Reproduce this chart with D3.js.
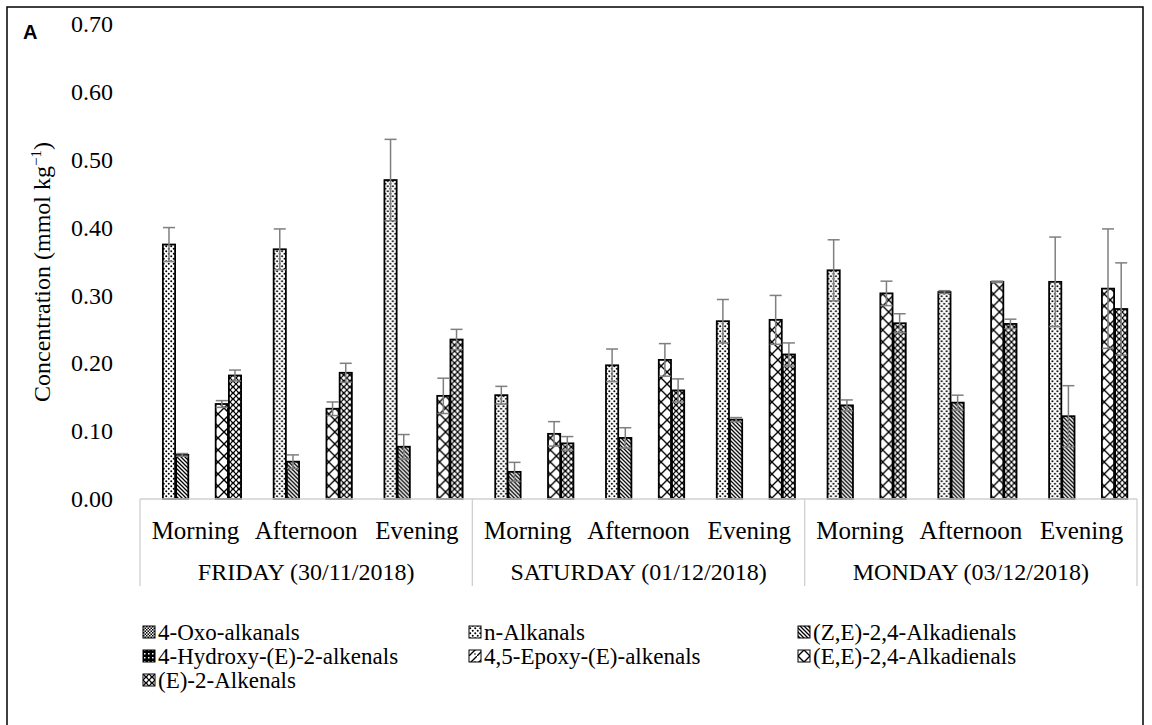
<!DOCTYPE html>
<html>
<head>
<meta charset="utf-8">
<script src="https://cdn.jsdelivr.net/npm/d3@7"></script>
<style>
  html, body { margin: 0; padding: 0; background: #fff; }
  svg { display: block; }
</style>
</head>
<body>
<svg id="chart" width="1152" height="725"></svg>
<script>
// Sampling periods and days
const days = ["FRIDAY (30/11/2018)", "SATURDAY (01/12/2018)", "MONDAY (03/12/2018)"];
const times = ["Morning", "Afternoon", "Evening"];

// Aldehyde families, in plotting order
const seriesNames = [
  "4-Oxo-alkanals",
  "n-Alkanals",
  "(Z,E)-2,4-Alkadienals",
  "4-Hydroxy-(E)-2-alkenals",
  "4,5-Epoxy-(E)-alkenals",
  "(E,E)-2,4-Alkadienals",
  "(E)-2-Alkenals"
];

// Mean concentrations (mmol kg-1), 9 samples: Fri M/A/E, Sat M/A/E, Mon M/A/E
const oxoAlkanals      = [0, 0, 0, 0, 0, 0, 0, 0, 0];
const nAlkanals        = [0.375, 0.368, 0.470, 0.153, 0.197, 0.262, 0.337, 0.305, 0.320];
const zeAlkadienals    = [0.065, 0.055, 0.077, 0.040, 0.090, 0.117, 0.138, 0.142, 0.122];
const hydroxyAlkenals  = [0, 0, 0, 0, 0, 0, 0, 0, 0];
const epoxyAlkenals    = [0, 0, 0, 0, 0, 0, 0, 0, 0];
const eeAlkadienals    = [0.140, 0.133, 0.152, 0.096, 0.205, 0.264, 0.303, 0.320, 0.310];
const e2Alkenals       = [0.182, 0.186, 0.235, 0.082, 0.160, 0.213, 0.259, 0.258, 0.280];

// Standard deviations
const oxoAlkanalsSd     = [0, 0, 0, 0, 0, 0, 0, 0, 0];
const nAlkanalsSd       = [0.025, 0.030, 0.060, 0.013, 0.024, 0.032, 0.045, 0.002, 0.066];
const zeAlkadienalsSd   = [0.002, 0.010, 0.018, 0.014, 0.015, 0.003, 0.008, 0.011, 0.045];
const hydroxyAlkenalsSd = [0, 0, 0, 0, 0, 0, 0, 0, 0];
const epoxyAlkenalsSd   = [0, 0, 0, 0, 0, 0, 0, 0, 0];
const eeAlkadienalsSd   = [0.005, 0.010, 0.026, 0.018, 0.024, 0.036, 0.018, 0.001, 0.088];
const e2AlkenalsSd      = [0.008, 0.014, 0.015, 0.010, 0.017, 0.017, 0.014, 0.007, 0.068];

const yTicks = [0, 0.1, 0.2, 0.3, 0.4, 0.5, 0.6, 0.7];

const values = [oxoAlkanals, nAlkanals, zeAlkadienals, hydroxyAlkenals, epoxyAlkenals, eeAlkadienals, e2Alkenals];
const errors = [oxoAlkanalsSd, nAlkanalsSd, zeAlkadienalsSd, hydroxyAlkenalsSd, epoxyAlkenalsSd, eeAlkadienalsSd, e2AlkenalsSd];

const samples = [];
days.forEach((d, di) => times.forEach((t, ti) => samples.push({ key: di * 3 + ti, day: d, time: t, di })));

const svg = d3.select("#chart");
const serif = "'Liberation Serif', 'Times New Roman', serif";

// ---- fill patterns ----
const defs = svg.append("defs");
function pattern(id, size, draw) {
  const p = defs.append("pattern").attr("id", id)
    .attr("patternUnits", "userSpaceOnUse").attr("width", size).attr("height", size);
  p.append("rect").attr("width", size).attr("height", size).attr("fill", "#fff");
  draw(p, size);
}
pattern("pOxo", 3, (p) => {
  p.append("rect").attr("width", 1.5).attr("height", 1.5).attr("fill", "#000");
  p.append("rect").attr("x", 1.5).attr("y", 1.5).attr("width", 1.5).attr("height", 1.5).attr("fill", "#000");
});
pattern("pDots", 5, (p) => {
  p.append("circle").attr("cx", 1.25).attr("cy", 1.25).attr("r", 1).attr("fill", "#000");
  p.append("circle").attr("cx", 3.75).attr("cy", 3.75).attr("r", 1).attr("fill", "#000");
});
pattern("pBack", 4, (p, s) => {
  p.append("path").attr("d", `M-1,-1L${s + 1},${s + 1}M-1,${s - 1}L1,${s + 1}M${s - 1},-1L${s + 1},1`)
    .attr("stroke", "#000").attr("stroke-width", 1.3);
});
pattern("pHydroxy", 4, (p) => {
  p.select("rect").attr("fill", "#000");
  p.append("rect").attr("x", 1).attr("y", 1).attr("width", 1.5).attr("height", 1.5).attr("fill", "#fff");
});
pattern("pEpoxy", 8, (p, s) => {
  p.append("path").attr("d", `M0,${s}L${s},0`).attr("stroke", "#000").attr("stroke-width", 1.3);
  p.append("circle").attr("cx", 6).attr("cy", 6).attr("r", 0.8).attr("fill", "#000");
});
pattern("pZig", 12, (p) => {
  p.append("path").attr("d", "M0,0L6,6L0,12M12,0L6,6L12,12")
    .attr("stroke", "#000").attr("stroke-width", 1.4).attr("fill", "none");
});
pattern("pFine", 6, (p) => {
  p.append("path").attr("d", "M0,0L3,3L0,6M6,0L3,3L6,6")
    .attr("stroke", "#000").attr("stroke-width", 1.2).attr("fill", "none");
  p.append("path").attr("d", "M1,3L5,3").attr("stroke", "#000").attr("stroke-width", 0.6);
});
const fills = ["url(#pOxo)", "url(#pDots)", "url(#pBack)", "url(#pHydroxy)", "url(#pEpoxy)", "url(#pZig)", "url(#pFine)"];

// ---- outer frame and panel letter ----
svg.append("rect").attr("x", 7).attr("y", 7).attr("width", 1136).attr("height", 740)
  .attr("fill", "none").attr("stroke", "#000").attr("stroke-width", 1.5);
svg.append("text").attr("x", 23).attr("y", 39)
  .attr("font-family", "'Liberation Sans', Arial, sans-serif").attr("font-weight", "bold")
  .attr("font-size", 20).text("A");

// ---- scales ----
const plotLeft = 140, plotRight = 1137, plotTop = 24, plotBottom = 499;
const x0 = d3.scaleBand().domain(samples.map(s => s.key)).range([plotLeft, plotRight]).paddingInner(0).paddingOuter(0);
const gw = x0.bandwidth();
const x1 = d3.scaleBand().domain(d3.range(seriesNames.length)).range([gw * 0.083, gw * 0.917]).padding(0);
const y = d3.scaleLinear().domain([0, 0.7]).range([plotBottom, plotTop]);

// ---- y axis (labels only) ----
const yAxis = svg.append("g").attr("transform", `translate(${plotLeft},0)`)
  .call(d3.axisLeft(y).tickValues(yTicks).tickFormat(d3.format(".2f")).tickSize(0).tickPadding(27));
yAxis.select(".domain").remove();
yAxis.selectAll("text").attr("font-family", serif).attr("font-size", 24).attr("fill", "#000");

const yTitle = svg.append("text")
  .attr("transform", `translate(50,272) rotate(-90)`)
  .attr("text-anchor", "middle").attr("font-family", serif).attr("font-size", 24).attr("fill", "#000");
yTitle.append("tspan").text("Concentration (mmol kg");
yTitle.append("tspan").attr("dy", -9).attr("font-size", 15).text("−1");
yTitle.append("tspan").attr("dy", 9).text(")");

// ---- bars ----
const barData = d => seriesNames
  .map((n, si) => ({ si, v: values[si][d.key], e: errors[si][d.key] }))
  .filter(b => b.v > 0);

const groups = svg.append("g").selectAll("g").data(samples).join("g")
  .attr("transform", d => `translate(${x0(d.key)},0)`);

groups.selectAll("rect").data(barData)
  .join("rect")
  .attr("x", b => x1(b.si) + 0.5)
  .attr("width", x1.bandwidth() - 1)
  .attr("y", b => y(b.v))
  .attr("height", b => y(0) - y(b.v))
  .attr("fill", b => fills[b.si])
  .attr("stroke", "#000").attr("stroke-width", 1.8);

// ---- error bars (± SD) ----
const eb = groups.selectAll("g.err").data(barData)
  .join("g").attr("class", "err")
  .attr("stroke", "#7f7f7f").attr("stroke-width", 1.5);
const cap = 6;
const cx = b => x1(b.si) + x1.bandwidth() / 2;
eb.append("line")
  .attr("x1", cx).attr("x2", cx)
  .attr("y1", b => y(b.v + b.e)).attr("y2", b => y(Math.max(0, b.v - b.e)));
eb.append("line")
  .attr("x1", b => cx(b) - cap).attr("x2", b => cx(b) + cap)
  .attr("y1", b => y(b.v + b.e)).attr("y2", b => y(b.v + b.e));
eb.append("line")
  .attr("x1", b => cx(b) - cap).attr("x2", b => cx(b) + cap)
  .attr("y1", b => y(Math.max(0, b.v - b.e))).attr("y2", b => y(Math.max(0, b.v - b.e)));

// ---- category axis (two levels) ----
const axisColor = "#d0d0d0";
svg.append("line").attr("x1", plotLeft).attr("x2", plotRight).attr("y1", plotBottom).attr("y2", plotBottom)
  .attr("stroke", axisColor).attr("stroke-width", 1.3);
const dayEdges = [0, 3, 6].map(k => x0(k)).concat([plotRight]);
svg.append("g").selectAll("line").data(dayEdges).join("line")
  .attr("x1", d => d).attr("x2", d => d).attr("y1", plotBottom).attr("y2", 586)
  .attr("stroke", axisColor).attr("stroke-width", 1.3);

svg.append("g").selectAll("text").data(samples).join("text")
  .attr("x", d => x0(d.key) + gw / 2).attr("y", 539)
  .attr("text-anchor", "middle").attr("font-family", serif).attr("font-size", 25).attr("fill", "#000")
  .text(d => d.time);

svg.append("g").selectAll("text").data(days).join("text")
  .attr("x", (d, i) => (dayEdges[i] + dayEdges[i + 1]) / 2).attr("y", 580)
  .attr("text-anchor", "middle").attr("font-family", serif).attr("font-size", 24).attr("fill", "#000")
  .text(d => d);

// ---- legend (3 columns, row-major) ----
const legCols = [143, 469, 798];
const legRows = [632, 656, 680];
const leg = svg.append("g").selectAll("g").data(seriesNames).join("g")
  .attr("transform", (d, i) => `translate(${legCols[i % 3]},${legRows[Math.floor(i / 3)]})`);
leg.append("rect").attr("x", 0).attr("y", -6).attr("width", 12).attr("height", 12)
  .attr("fill", (d, i) => fills[i]).attr("stroke", "#000").attr("stroke-width", 1);
leg.append("text").attr("x", 15).attr("y", 8)
  .attr("font-family", serif).attr("font-size", 23).attr("fill", "#000")
  .text(d => d);
</script>
</body>
</html>
